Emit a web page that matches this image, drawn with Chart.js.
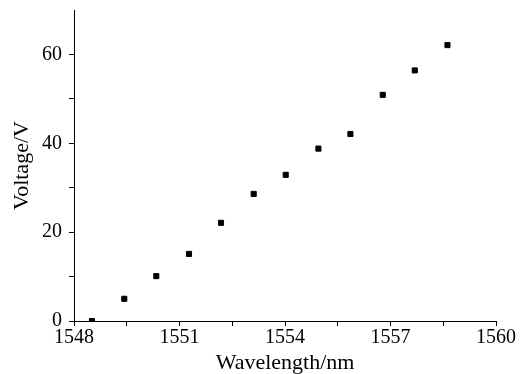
<!DOCTYPE html>
<html>
<head>
<meta charset="utf-8">
<script src="https://cdn.jsdelivr.net/npm/chart.js@4"></script>
<style>
  html, body { margin: 0; padding: 0; background: #fff; }
  #wrap { width: 521px; height: 374px; }
</style>
</head>
<body>
<div id="wrap"><canvas id="chart" width="521" height="374"></canvas></div>
<script>
// values
const wavelengths = [1548.51, 1549.43, 1550.34, 1551.27, 1552.18, 1553.11, 1554.02, 1554.95, 1555.86, 1556.78, 1557.69, 1558.62];
const voltages = [0, 5.0, 10.1, 15.1, 22.1, 28.6, 32.9, 38.8, 42.1, 50.9, 56.4, 62.1];
const xLabelTicks = [1548, 1551, 1554, 1557, 1560];
const yLabelTicks = [0, 20, 40, 60];

const points = wavelengths.map((w, i) => ({ x: w, y: voltages[i] }));

const serif = 'Liberation Serif';

new Chart(document.getElementById('chart'), {
    type: 'scatter',
    data: {
        datasets: [{
            data: points,
            pointStyle: 'rect',
            pointRadius: 3.6,
            pointBorderWidth: 1,
            backgroundColor: '#000',
            borderColor: '#000'
        }]
    },
    options: {
        responsive: false,
        animation: false,
        layout: { padding: { top: 10, right: 25, left: 0, bottom: 0 } },
        plugins: { legend: { display: false }, tooltip: { enabled: false } },
        scales: {
            x: {
                type: 'linear',
                min: 1548,
                max: 1560,
                afterFit: s => {
                    s.height = 53;
                    s.paddingLeft = 0;
                    s.paddingRight = 0;
                },
                border: { color: '#000', width: 1 },
                grid: { drawOnChartArea: false, drawTicks: true, tickLength: 5, tickColor: '#000' },
                ticks: {
                    stepSize: 1.5,
                    autoSkip: false,
                    maxRotation: 0,
                    padding: 0,
                    color: '#000',
                    font: { family: serif, size: 20 },
                    callback: v => xLabelTicks.includes(v) ? String(v) : ''
                },
                title: {
                    display: true,
                    text: 'Wavelength/nm',
                    color: '#000',
                    font: { family: serif, size: 22, lineHeight: 1 },
                    padding: { top: 0, bottom: 0 }
                }
            },
            y: {
                min: 0,
                max: 70,
                afterFit: s => {
                    s.width = 74;
                    s.paddingTop = 0;
                    s.paddingBottom = 0;
                },
                border: { color: '#000', width: 1 },
                grid: {
                    drawOnChartArea: false,
                    drawTicks: true,
                    tickLength: 5,
                    tickColor: c => (c.tick && c.tick.value === 70) ? 'rgba(0,0,0,0)' : '#000'
                },
                ticks: {
                    stepSize: 10,
                    padding: 7,
                    color: '#000',
                    font: { family: serif, size: 20 },
                    callback: v => yLabelTicks.includes(v) ? String(v) : ''
                },
                title: {
                    display: true,
                    text: 'Voltage/V',
                    color: '#000',
                    font: { family: serif, size: 22, lineHeight: 1 },
                    padding: { top: 11, bottom: 0 }
                }
            }
        }
    }
});
</script>
</body>
</html>
